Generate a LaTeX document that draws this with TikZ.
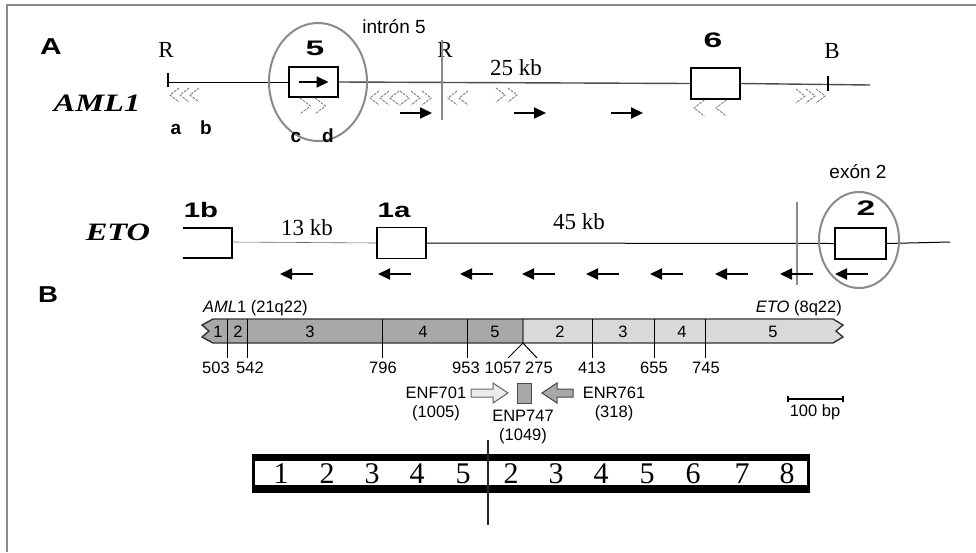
\documentclass[tikz,border=0pt]{standalone}
\usepackage{fontspec}
\usepackage{graphicx}
\setmainfont{Liberation Sans}
\newfontfamily\timesfont{Liberation Serif}
\usetikzlibrary{positioning}
\usetikzlibrary{arrows.meta}

\definecolor{ringgray}{HTML}{8A8A8A}
\definecolor{amlgray}{HTML}{A8A8A8}
\definecolor{etogray}{HTML}{D9D9D9}
\definecolor{chevgray}{HTML}{858585}

\newcommand{\widetext}[2]{\scalebox{#1}[1]{#2}}

\tikzset{
	exon/.style={draw, line width=1.2pt, fill=white, inner sep=0pt},
	ring/.style={draw=ringgray, line width=2pt},
	cutline/.style={draw=ringgray, line width=2pt},
	fwd/.style={line width=2pt, -{Triangle[length=12pt, width=11pt]}},
	chev/.style={chevgray, dash pattern=on 2.5pt off 1.2pt, line width=1pt},
	chl/.pic={\draw[chev] (9,-7) -- (0,0) -- (9,7);},
	chr/.pic={\draw[chev] (0,-7) -- (9,0) -- (0,7);},
	panel/.style={font=\bfseries\fontsize{23}{23}\selectfont, inner sep=0pt},
	exonnum/.style={font=\bfseries\fontsize{21}{21}\selectfont, inner sep=0pt},
	site/.style={font=\timesfont\fontsize{23}{23}\selectfont, inner sep=0pt},
	gene/.style={font=\timesfont\bfseries\itshape\fontsize{25}{25}\selectfont, inner sep=0pt},
	note/.style={font=\fontsize{19}{19}\selectfont, inner sep=0pt},
	probe/.style={font=\bfseries\fontsize{19}{19}\selectfont, inner sep=0pt},
	small/.style={font=\fontsize{16.5}{19}\selectfont, inner sep=0pt, align=center},
	gelnum/.style={font=\timesfont\fontsize{30}{30}\selectfont, inner sep=0pt},
	primer/.style={line width=1pt},
}

\begin{document}
\begin{tikzpicture}[x=1pt, y=-1pt]
	\useasboundingbox (0,0) rectangle (976,552);
	\draw[ringgray, line width=2.5pt] (7,552) -- (7,5) -- (976,5);

	% A: AML1
	\node[panel] (pA) at (51,47) {\widetext{1.3}{A}};
	\node[gene] (aml) at (97,103) {\widetext{1.3}{AML1}};
	\node[note] (intron) at (394,27) {intrón 5};
	\node[site] (r1) at (166,50) {R};
	\node[site] (r2) at (445,50) {R};
	\node[site] (b1) at (832,51) {B};
	\node[site] (d25) at (516,68) {25 kb};
	\coordinate (amlL) at (168,82);
	\coordinate (amlR) at (870,85);
	\node[exon, minimum width=49pt, minimum height=30pt] (e5) at (313.5,82) {};
	\node[exon, minimum width=49pt, minimum height=31pt] (e6) at (715.5,83.5) {};
	\node[exonnum] (n5) at (315,48) {\widetext{1.6}{5}};
	\node[exonnum] (n6) at (713,40) {\widetext{1.6}{6}};
	\draw[line width=1pt] (amlL) -- (e5.west);
	\draw[black!70, line width=1.4pt] (e5.east) -- (e6.west);
	\draw[black!70, line width=1.4pt] (e6.east) -- (amlR);
	\draw[line width=1.5pt] (168,73) -- (168,87);
	\draw[line width=1.5pt] (828,76) -- (828,91);
	\draw[fwd] ([xshift=-15pt]e5.center) -- ([xshift=15pt]e5.center);
	\draw[ring] (318,82) ellipse[x radius=49pt, y radius=59pt];
	\draw[cutline] (442,40) -- (442,120);
	\foreach \x in {400,514,611}
		\draw[fwd] (\x,113) -- ++(32,0);
	% repeats
	\foreach \x in {170,180,190} \pic at (\x,95) {chl};
	\foreach \x in {300,315} \pic[scale=1.15] at (\x,106) {chr};
	\foreach \x in {370,380,390} \pic at (\x,98) {chl};
	\foreach \x in {400,411,422} \pic at (\x,98) {chr};
	\foreach \x in {448,459} \pic at (\x,98) {chl};
	\foreach \x in {496,508} \pic at (\x,95) {chr};
	\foreach \x in {694,716} \pic[scale=1.15] at (\x,108) {chl};
	\foreach \x in {796,806,816} \pic at (\x,96) {chr};
	\node[probe] (pa) at (176,129) {a};
	\node[probe] (pb) at (206,128) {b};
	\node[probe] (pc) at (296,137) {c};
	\node[probe] (pd) at (328,136) {d};

	% ETO
	\node[gene] (eto) at (118,232) {\widetext{1.3}{ETO}};
	\node[exonnum] (n1b) at (201,210) {\widetext{1.4}{1b}};
	\node[exonnum] (n1a) at (394,210) {\widetext{1.4}{1a}};
	\node[exonnum] (n2) at (866,208) {\widetext{1.6}{2}};
	\node[note] (exon) at (858,172) {exón 2};
	\node[site] (d13) at (307,228) {13 kb};
	\node[site] (d45) at (579,222) {45 kb};
	\coordinate (b1e) at (232,242);
	\coordinate (etoR) at (950,242);
	\draw[line width=1.2pt] (183,228) -- (232,228) -- (232,258) -- (183,258);
	\node[exon, minimum width=49pt, minimum height=31pt] (e1a) at (401.5,243) {};
	\node[exon, minimum width=51pt, minimum height=31pt] (e2) at (860.5,243.5) {};
	\draw[black!60, line width=0.6pt] (b1e) -- (e1a.west);
	\draw[line width=1pt] (e1a.east) -- (e2.west);
	\draw[line width=1pt] (e2.east) -- (etoR);
	\draw[cutline] (797,202) -- (797,285);
	\draw[ring] (859,240) ellipse[x radius=40pt, y radius=48pt];
	\foreach \x in {280,378,460,522,586,650,715,780,835}
		\draw[fwd] ({\x+33},274) -- (\x,274);

	% B: fusion transcript
	\node[panel] (pB) at (48,295) {\widetext{1.2}{B}};
	\node[small, anchor=west] (amlB) at (203,308) {\textit{AML}1 (21q22)};
	\node[small, anchor=east] (etoB) at (842,308) {\textit{ETO} (8q22)};
	\draw[fill=amlgray, draw=black!80, line width=1.4pt] (523,319) -- (213,319) -- (202,325) -- (209,331) -- (202,337) -- (213,343) -- (523,343);
	\draw[fill=etogray, draw=black!80, line width=1.4pt] (523,343) -- (833,343) -- (843,337) -- (836,331) -- (843,325) -- (833,319) -- (523,319) -- cycle;
	\foreach \x in {227,247,382,467,592,654,705}
		\draw[line width=1pt] (\x,319) -- (\x,358);
	\draw[line width=1pt] (508,358) -- (523,343) -- (537,358);
	\foreach \x/\t [count=\i] in {218/1,238/2,310/3,423/4,495/5,560/2,623/3,682/4,773/5}
		\node[small] (s\i) at (\x,332) {\t};
	\foreach \x/\t [count=\i] in {216/503,250/542,383/796,466/953,503/1057,539/275,592/413,654/655,706/745}
		\node[small] (p\i) at (\x,368) {\t};
	\draw[primer, draw=black!60, fill=black!8] (471,389) -- (493,389) -- (493,383) -- (508,393) -- (493,403) -- (493,397) -- (471,397) -- cycle;
	\draw[primer, draw=black!70, fill=amlgray] (573,389) -- (557,389) -- (557,383) -- (542,393) -- (557,403) -- (557,397) -- (573,397) -- cycle;
	\node[draw=black!70, fill=amlgray, line width=1pt, minimum width=14pt, minimum height=20pt, inner sep=0pt] (enp) at (524,393) {};
	\node[small] (enf) at (436,404) {ENF701\\(1005)};
	\node[small] (enpl) at (523,427) {ENP747\\(1049)};
	\node[small] (enr) at (614,404) {ENR761\\(318)};
	\draw[line width=1.2pt] (788,396) -- (788,402) (788,399) -- (843,399) (843,396) -- (843,402);
	\node[small] (bp) at (815,412) {100 bp};

	% gel
	\fill (252,454) rectangle (810,493);
	\fill[white] (255,461) rectangle (807,485);
	\foreach \x/\t [count=\i] in {281/1,327/2,372/3,417/4,463/5,511/2,556/3,601/4,647/5,693/6,742/7,787/8}
		\node[gelnum] (g\i) at (\x,474) {\t};
	\draw[black!85, line width=2.5pt] (488,440) -- (488,525);
\end{tikzpicture}
\end{document}
